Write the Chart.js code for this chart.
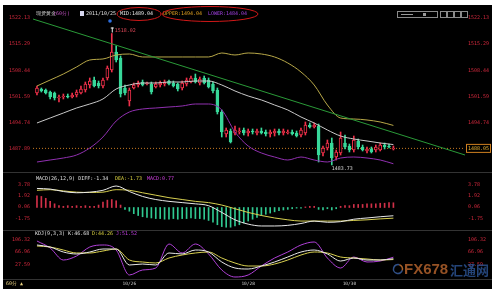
<!DOCTYPE html>
<html>
<head>
<meta charset="utf-8">
<script src="https://cdn.jsdelivr.net/npm/chart.js@4.4.1/dist/chart.umd.min.js"></script>
<style>
  html, body { margin: 0; padding: 0; background: #fff; }
  #wrap { position: absolute; left: 3px; top: 5px; width: 489px; height: 284px; background: #000; overflow: hidden; }
  canvas { position: absolute; left: 0; }
  #main { top: 0; }
  #macd { top: 167px; }
  #kdj { top: 225px; }
</style>
</head>
<body>
<div id="wrap">
  <canvas id="main" width="489" height="167"></canvas>
  <canvas id="macd" width="489" height="58"></canvas>
  <canvas id="kdj" width="489" height="59"></canvas>
</div>
<script>
// 60 min candles, one per index
const opens = [1502.50,1503.55,1503.29,1502.76,1502.50,1501.20,1501.46,1501.72,1501.46,1501.98,
  1502.50,1503.29,1504.59,1505.89,1505.11,1504.33,1506.42,1508.51,1513.20,1511.64,
  1503.81,1500.42,1503.81,1504.59,1505.37,1504.85,1504.85,1504.07,1504.59,1504.85,
  1505.63,1505.11,1504.85,1503.81,1504.85,1505.37,1506.42,1505.11,1506.42,1505.89,
  1504.85,1503.29,1497.54,1491.80,1492.59,1492.07,1492.33,1492.85,1492.07,1492.59,
  1492.07,1492.59,1492.33,1491.80,1492.07,1492.59,1492.07,1492.07,1492.33,1492.07,
  1491.54,1492.07,1494.15,1493.63,1493.89,1486.85,1488.15,1489.46,1485.80,1486.85,
  1489.46,1488.67,1487.63,1489.98,1488.41,1487.37,1487.89,1487.63,1487.63,1488.93,
  1488.67,1487.89];
const closes = [1503.81,1503.03,1502.50,1501.46,1501.20,1501.46,1501.72,1501.46,1501.98,1502.76,
  1503.55,1504.85,1505.63,1504.33,1504.33,1505.89,1509.03,1513.20,1511.11,1502.24,
  1502.50,1503.29,1504.59,1505.11,1504.59,1505.11,1502.76,1504.85,1505.11,1505.37,
  1504.85,1504.33,1503.55,1505.11,1505.89,1506.42,1505.37,1506.16,1505.11,1504.07,
  1503.03,1497.54,1492.33,1492.85,1489.72,1492.85,1492.59,1492.07,1492.59,1492.33,
  1492.59,1492.07,1491.80,1492.33,1492.59,1492.07,1492.59,1492.33,1491.80,1491.28,
  1492.85,1494.15,1493.63,1494.15,1486.32,1488.15,1489.46,1485.54,1487.11,1490.76,
  1488.41,1487.63,1490.24,1488.41,1487.63,1487.89,1487.11,1488.41,1488.93,1488.41,
  1488.41,1488.05];
const highs = [1504.33,1503.81,1503.55,1503.03,1502.76,1501.98,1502.24,1502.24,1502.50,1503.29,
  1504.33,1505.37,1506.42,1506.68,1505.63,1506.42,1509.55,1518.02,1514.77,1512.16,
  1504.59,1503.81,1505.11,1505.63,1505.89,1505.37,1505.37,1505.37,1505.63,1505.89,
  1505.89,1505.63,1505.11,1505.63,1506.42,1506.94,1507.46,1506.68,1506.94,1506.42,
  1505.37,1503.81,1498.07,1493.37,1493.11,1493.89,1493.37,1493.37,1493.11,1493.11,
  1493.11,1493.37,1492.85,1492.85,1493.11,1493.11,1493.11,1492.85,1492.85,1492.59,
  1493.37,1494.94,1494.68,1494.68,1494.41,1488.67,1490.24,1490.76,1487.63,1492.33,
  1491.54,1489.19,1491.28,1490.50,1488.93,1488.41,1488.41,1488.93,1489.46,1489.46,
  1489.19,1488.67];
const lows = [1501.98,1502.76,1502.24,1500.94,1500.68,1500.15,1500.94,1501.20,1501.20,1501.46,
  1502.24,1502.76,1503.81,1504.07,1503.81,1503.81,1505.89,1507.98,1510.59,1501.46,
  1501.98,1499.11,1503.55,1504.07,1504.33,1504.59,1502.24,1503.81,1504.07,1504.33,
  1504.59,1504.07,1503.03,1503.29,1504.33,1505.11,1505.11,1504.59,1504.85,1503.81,
  1502.50,1497.02,1491.02,1491.02,1489.46,1491.54,1491.80,1491.54,1491.28,1491.80,
  1491.54,1491.80,1491.28,1491.02,1491.28,1491.54,1491.54,1491.80,1491.54,1491.02,
  1491.02,1491.54,1493.37,1493.37,1484.50,1486.06,1487.63,1483.73,1485.02,1486.32,
  1487.89,1487.11,1487.11,1487.89,1487.37,1486.85,1486.85,1487.11,1487.37,1487.89,
  1488.15,1487.63];

// indicator lines, read at every third candle
const sampleIdx = [0,3,6,9,12,15,18,21,24,27,30,33,36,39,42,45,48,51,54,57,60,63,66,69,72,75,78,81];
const upperBand = [1504.33,1505.89,1507.46,1509.29,1511.11,1511.38,1512.42,1512.68,1511.90,1511.90,
  1511.90,1511.90,1511.90,1511.90,1512.94,1512.42,1512.94,1512.68,1511.90,1510.33,
  1507.98,1504.59,1499.37,1495.98,1495.72,1495.46,1494.94,1494.04];
const midBand = [1494.68,1495.98,1497.28,1498.59,1499.63,1500.94,1503.55,1504.59,1505.11,1505.11,
  1505.37,1505.37,1505.63,1505.63,1504.59,1503.03,1501.72,1500.68,1499.37,1498.07,
  1496.24,1494.68,1492.85,1491.28,1490.50,1489.98,1489.46,1489.04];
const lowerBand = [1484.50,1485.02,1485.54,1486.32,1488.15,1491.02,1495.20,1497.54,1498.33,1498.59,
  1498.85,1499.11,1499.63,1499.63,1498.07,1492.33,1488.67,1486.85,1485.80,1485.02,
  1485.80,1485.02,1484.50,1485.54,1485.80,1485.54,1485.02,1484.04];
const trendX = [-0.9, 97.27];
const trendY = [1521.80, 1486.32];
const lastClose = 1488.05;

const diffLine = [3.1,3.0,2.6,2.4,2.5,2.8,3.5,2.6,1.8,1.3,1.0,0.8,0.6,0.3,-0.8,-2.0,-2.7,-3.0,-3.0,-2.9,-2.6,-2.2,-2.4,-2.3,-1.9,-1.7,-1.5,-1.34];
const deaLine = [2.8,2.9,2.7,2.5,2.45,2.5,2.9,2.8,2.4,2.0,1.6,1.3,1.0,0.8,0.4,-0.2,-0.8,-1.3,-1.7,-2.0,-2.2,-2.2,-2.2,-2.2,-2.1,-2.0,-1.85,-1.73];
const macdHist = [1.9,1.8,1.5,1.0,0.6,0.3,0.2,0.3,0.2,0.3,
  0.2,0.3,0.2,0.2,0.4,0.9,1.2,1.3,1.1,0.4,
  -0.3,-0.6,-1.0,-1.3,-1.5,-1.6,-1.7,-1.8,-1.8,-1.9,
  -1.9,-1.8,-1.9,-1.8,-1.8,-1.7,-1.8,-1.8,-1.9,-2.1,
  -2.4,-2.8,-3.1,-3.2,-3.2,-3.0,-2.8,-2.5,-2.2,-1.9,
  -1.6,-1.3,-1.1,-0.9,-0.7,-0.5,-0.4,-0.3,-0.2,-0.1,
  -0.1,0.1,0.2,0.2,-0.3,-0.4,-0.2,-0.4,-0.2,0.2,
  0.3,0.3,0.5,0.5,0.5,0.6,0.6,0.6,0.7,0.7,
  0.8,0.77];

const kLine = [88.9,82.7,67.4,61.3,67.4,76.6,76.6,27.6,30.6,27.6,64.4,61.3,73.5,67.4,36.8,18.4,15.3,24.5,36.8,52.1,67.4,73.5,61.3,39.8,49.0,42.9,42.9,46.68];
const dLine = [85.8,82.7,73.5,64.4,64.4,70.5,76.6,42.9,36.8,33.7,49.0,58.2,64.4,67.4,49.0,33.7,24.5,24.5,30.6,42.9,58.2,67.4,64.4,52.1,49.0,46.0,42.9,44.26];
const jLine = [101.1,79.7,42.9,55.2,82.7,88.9,73.5,-3.0,12.3,18.4,91.9,64.4,91.9,61.3,12.3,-9.2,-3.0,24.5,49.0,67.4,88.9,98.1,49.0,18.4,52.1,36.8,39.8,51.52];

const priceTicks = [1522.13, 1515.29, 1508.44, 1501.59, 1494.74, 1487.89];
const macdTicks = [3.78, 1.92, 0.06, -1.75];
const kdjTicks = [106.32, 66.96, 27.59];
const dateIdx = [21, 48, 71];
const dateLabels = ['10/26', '10/28', '10/30'];

const priceHeader = ['现货黄金', '(60分)', '2011/10/25', 'MID:1489.04', 'UPPER:1494.04', 'LOWER:1484.04'];
const macdHeader = ['MACD(26,12,9) DIFF:-1.34', 'DEA:-1.73', 'MACD:0.77'];
const kdjHeader = ['KDJ(9,3,3) K:46.68', 'D:44.26', 'J:51.52'];
const highLabel = '1518.02', lowLabel = '1483.73';

// ---- styling ----
const xMin = -0.9, xMax = 97.27;
const UP = '#f0304a', DOWN = '#38d89a';
const MONO = '"DejaVu Sans Mono", monospace';
const HDR_FONT = '5px ' + MONO;
const SEP = '#333';

const isUp = i => closes[i] >= opens[i];
const toPts = vals => sampleIdx.map((x, k) => ({x: x, y: vals[k]}));

function lineDs(vals, color) {
    return {
        type: 'line', data: toPts(vals), borderColor: color, borderWidth: 1,
        pointRadius: 0, cubicInterpolationMode: 'monotone', order: 0
    };
}

// tick labels would otherwise push the plot area in by half a label + padding
function fitY(width) {
    return s => { s.width = width; s.paddingTop = 0; s.paddingBottom = 0; };
}

function yAxes(ticks, min, max) {
    const base = {
        min: min, max: max,
        grid: {display: false, drawTicks: false},
        border: {display: false},
        afterBuildTicks: s => { s.ticks = ticks.map(v => ({value: v})); },
        ticks: {
            color: '#d0283c', font: {family: MONO, size: 5}, padding: 3, autoSkip: false,
            callback: v => Number(v).toFixed(2)
        }
    };
    return {
        y: Object.assign({}, base, {position: 'left', afterFit: fitY(30)}),
        y2: Object.assign({}, base, {position: 'right', afterFit: fitY(27)})
    };
}

function xAxis(show) {
    const axis = {
        type: 'linear', min: xMin, max: xMax, offset: false, display: show,
        grid: {display: false, drawTicks: false},
        border: {display: false}
    };
    if (show) {
        // only the bottom panel carries the date row
        axis.afterBuildTicks = s => { s.ticks = dateIdx.map(v => ({value: v})); };
        axis.afterFit = s => { s.height = 10; s.paddingLeft = 0; s.paddingRight = 0; };
        axis.ticks = {
            color: '#c8c8c8', font: {family: MONO, size: 4.5}, padding: 2,
            autoSkip: false, maxRotation: 0,
            callback: v => dateLabels[dateIdx.indexOf(v)]
        };
    }
    return axis;
}

function drawParts(ctx, parts, xs, colors, y) {
    ctx.font = HDR_FONT;
    ctx.textBaseline = 'middle';
    ctx.textAlign = 'left';
    parts.forEach((t, k) => {
        ctx.fillStyle = colors[k];
        ctx.fillText(t, xs[k], y);
    });
}

const baseOpts = {
    responsive: false,
    animation: false,
    events: [],
    plugins: {legend: {display: false}, tooltip: {enabled: false}}
};

// ---- price panel ----
const mainDecor = {
    id: 'mainDecor',
    afterDraw(chart) {
        const {ctx} = chart;
        const x = chart.scales.x, y = chart.scales.y;
        ctx.save();
        drawParts(ctx, priceHeader, [33, 50, 83, 117, 160, 205],
            ['#d8d8d8', '#c050c0', '#e0e0e0', '#e8e8e8', '#e0a020', '#a040e0'], 8.5);
        // little icon before the date
        ctx.fillStyle = '#d8d8f0';
        ctx.fillRect(77, 6, 4, 5);
        // red hand-drawn ellipses
        ctx.strokeStyle = '#d01818';
        ctx.lineWidth = 1;
        ctx.beginPath(); ctx.ellipse(136, 9, 22, 6.5, 0, 0, Math.PI * 2); ctx.stroke();
        ctx.beginPath(); ctx.ellipse(207, 9, 48, 7.5, 0, 0, Math.PI * 2); ctx.stroke();
        // toolbar buttons top right
        ctx.strokeStyle = '#8a8a8a';
        ctx.strokeRect(394.5, 6.5, 40, 6);
        [437, 444, 451, 458].forEach(bx => ctx.strokeRect(bx + 0.5, 6.5, 6, 6));
        ctx.fillStyle = '#9a9a9a';
        ctx.fillRect(398, 9, 12, 1);
        ctx.fillRect(420, 8, 3, 3);
        // cursor dot
        ctx.fillStyle = '#2d6fe0';
        ctx.beginPath(); ctx.arc(107, 16, 1.8, 0, Math.PI * 2); ctx.fill();
        // high marker
        const hi = highs.indexOf(Math.max.apply(null, highs));
        const hx = x.getPixelForValue(hi), hy = y.getPixelForValue(highs[hi]);
        ctx.strokeStyle = '#f0f0f0';
        ctx.beginPath(); ctx.moveTo(hx + 0.5, hy - 6); ctx.lineTo(hx + 0.5, hy - 1);
        ctx.moveTo(hx - 1, hy - 5.5); ctx.lineTo(hx + 2, hy - 5.5); ctx.stroke();
        ctx.font = HDR_FONT;
        ctx.textBaseline = 'middle';
        ctx.fillStyle = '#e04858';
        ctx.fillText(highLabel, hx + 3, hy - 3);
        // low marker
        const lo = lows.indexOf(Math.min.apply(null, lows));
        const lx = x.getPixelForValue(lo), ly = y.getPixelForValue(lows[lo]);
        ctx.fillStyle = '#d8d8d8';
        ctx.fillText(lowLabel, lx, ly + 3.5);
        // last price box
        const py = y.getPixelForValue(lastClose);
        ctx.fillStyle = '#000';
        ctx.fillRect(463, py - 4.5, 25, 9);
        ctx.strokeStyle = '#d08020';
        ctx.strokeRect(463.5, py - 4, 24, 8);
        ctx.fillStyle = '#e8b030';
        ctx.fillText(lastClose.toFixed(2), 465, py + 0.5);
        ctx.restore();
    }
};

new Chart(document.getElementById('main'), {
    type: 'bar',
    data: {
        datasets: [
            {
                type: 'line', data: trendX.map((v, k) => ({x: v, y: trendY[k]})),
                borderColor: '#2a9a38', borderWidth: 1, pointRadius: 0, order: 0
            },
            lineDs(upperBand, '#b8a848'),
            lineDs(midBand, '#c8c8c8'),
            lineDs(lowerBand, '#9030b0'),
            {
                type: 'bar', data: opens.map((o, i) => ({x: i, y: [o, closes[i]]})),
                backgroundColor: c => isUp(c.dataIndex) ? '#000' : DOWN,
                borderColor: c => isUp(c.dataIndex) ? UP : DOWN,
                borderWidth: 1, borderSkipped: false, barThickness: 3, minBarLength: 1,
                grouped: false, order: 1
            },
            {
                type: 'bar', data: lows.map((l, i) => ({x: i, y: [l, highs[i]]})),
                backgroundColor: c => isUp(c.dataIndex) ? UP : DOWN,
                barThickness: 1, grouped: false, order: 2
            },
            {
                type: 'line', data: [{x: xMin, y: lastClose}, {x: xMax, y: lastClose}],
                borderColor: '#c87820', borderWidth: 1, borderDash: [1, 2], pointRadius: 0, order: 3
            }
        ]
    },
    options: Object.assign({}, baseOpts, {
        layout: {padding: {top: 3, bottom: 2, left: 0, right: 0}},
        scales: Object.assign({x: xAxis(false)}, yAxes(priceTicks, 1482.41, 1524.68))
    }),
    plugins: [mainDecor]
});

// ---- MACD panel ----
const macdDecor = {
    id: 'macdDecor',
    afterDraw(chart) {
        const {ctx} = chart;
        ctx.save();
        ctx.fillStyle = SEP;
        ctx.fillRect(0, 0, 489, 1);
        drawParts(ctx, macdHeader, [33, 112, 144], ['#e0e0e0', '#d8d040', '#d040e0'], 7);
        ctx.restore();
    }
};

new Chart(document.getElementById('macd'), {
    type: 'bar',
    data: {
        datasets: [
            lineDs(diffLine, '#e8e8e8'),
            lineDs(deaLine, '#d8d050'),
            {
                type: 'bar', data: macdHist.map((v, i) => ({x: i, y: v})),
                backgroundColor: c => macdHist[c.dataIndex] >= 0 ? '#d03048' : '#30c890',
                barThickness: 1, grouped: false, order: 1
            }
        ]
    },
    options: Object.assign({}, baseOpts, {
        layout: {padding: {top: 2, bottom: 2, left: 0, right: 0}},
        scales: Object.assign({x: xAxis(false)}, yAxes(macdTicks, -3.33, 5.45))
    }),
    plugins: [macdDecor]
});

// ---- KDJ panel ----
const kdjDecor = {
    id: 'kdjDecor',
    afterDraw(chart) {
        const {ctx, chartArea} = chart;
        ctx.save();
        ctx.fillStyle = SEP;
        ctx.fillRect(0, 0, 489, 1);
        ctx.fillRect(0, Math.round(chartArea.bottom), 489, 1);
        drawParts(ctx, kdjHeader, [32, 89, 113], ['#e0e0e0', '#d8d040', '#c040e0'], 4);
        ctx.fillStyle = '#e8d080';
        ctx.font = HDR_FONT;
        ctx.fillText('60分 ▲', 3, 54);
        // watermark
        ctx.strokeStyle = 'rgba(60,100,170,0.8)';
        ctx.lineWidth = 1.5;
        ctx.beginPath(); ctx.arc(395, 39, 4.5, 0.3, Math.PI * 1.6); ctx.stroke();
        ctx.strokeStyle = 'rgba(210,120,50,0.8)';
        ctx.beginPath(); ctx.arc(395, 39, 4.5, Math.PI * 1.6, Math.PI * 2.1); ctx.stroke();
        ctx.textBaseline = 'middle';
        ctx.font = 'bold 15px "Liberation Sans", sans-serif';
        ctx.fillStyle = 'rgba(200,110,50,0.75)';
        ctx.fillText('FX678', 401, 40);
        ctx.font = 'bold 13px "Noto Sans CJK SC", sans-serif';
        ctx.fillStyle = 'rgba(45,85,150,0.8)';
        ctx.fillText('汇通网', 447, 40);
        ctx.restore();
    }
};

new Chart(document.getElementById('kdj'), {
    type: 'line',
    data: {
        datasets: [
            lineDs(kLine, '#e8e8e8'),
            lineDs(dLine, '#d8d050'),
            lineDs(jLine, '#b040d8')
        ]
    },
    options: Object.assign({}, baseOpts, {
        layout: {padding: {top: 2, bottom: 0, left: 0, right: 0}},
        scales: Object.assign({x: xAxis(true)}, yAxes(kdjTicks, -15.3, 128.7))
    }),
    plugins: [kdjDecor]
});
</script>
</body>
</html>
